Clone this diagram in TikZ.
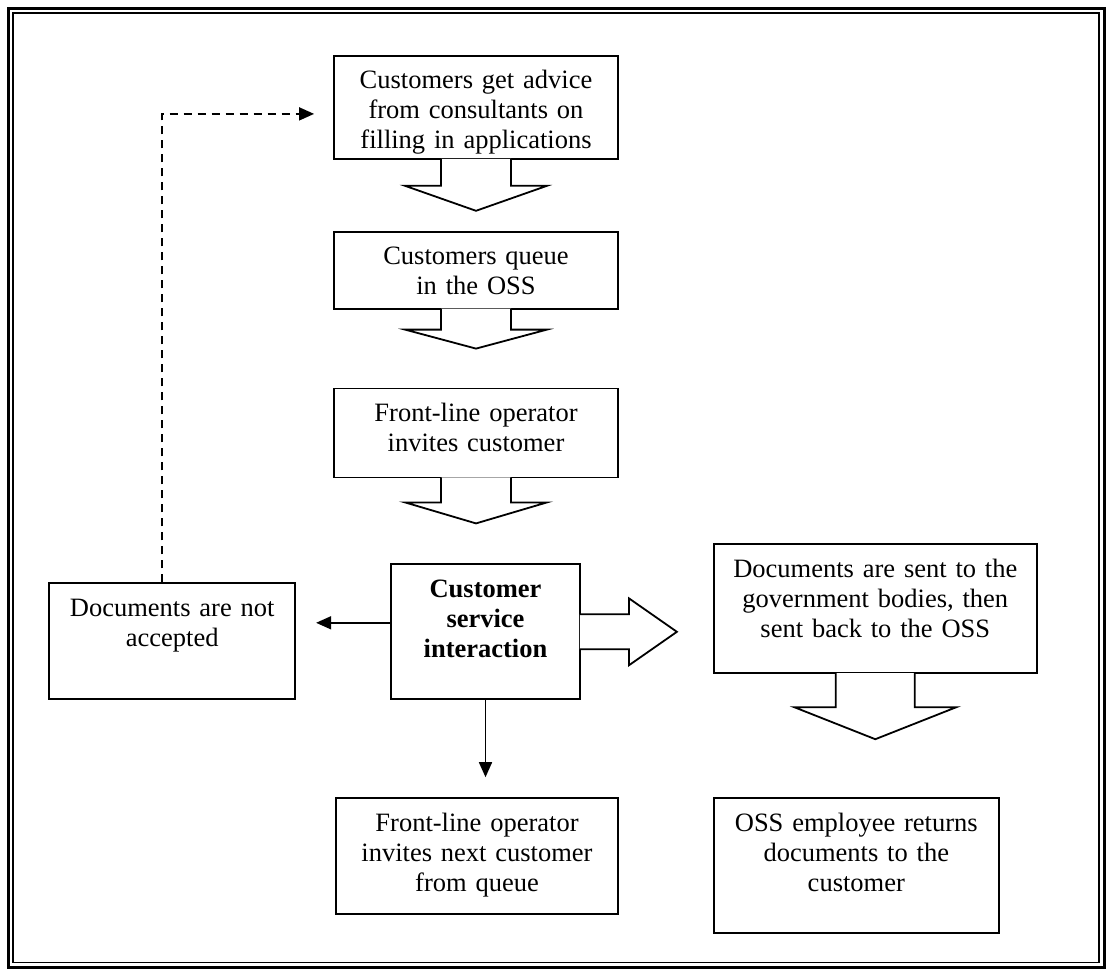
\documentclass[tikz,border=0pt]{standalone}
\usepackage{fontspec}
\setmainfont{Liberation Serif}
\usetikzlibrary{arrows.meta,positioning}

\begin{document}
\begin{tikzpicture}[
  box/.style={draw,line width=0.9pt,align=center,inner xsep=2pt,inner ysep=0pt,
              text height=16.5pt,font=\fontsize{13.25}{15}\selectfont},
  blockarrow/.style={draw,fill=white,line width=0.9pt},
  link/.style={-{Triangle[length=7.5pt,width=6.5pt]},line width=0.8pt}
]
\useasboundingbox (0,0) rectangle (553.5pt,-484.5pt);
% page frame
\draw[line width=1.5pt] (4.25pt,-4.25pt) rectangle (552pt,-483.5pt);
\draw[line width=0.75pt] (6.6pt,-6.6pt) rectangle (549.6pt,-481.25pt);

\node[box,text width=138pt,text depth=35pt,anchor=north] (advice) at (238pt,-27.5pt)
  {Customers get advice\\from consultants on\\filling in applications};
\node[box,text width=138pt,text depth=22pt,below=35.5pt of advice] (queue)
  {Customers queue\\in the OSS};
\node[box,text width=138pt,text depth=28pt,below=39pt of queue] (invite)
  {Front-line operator\\invites customer};
\node[box,text width=90.5pt,text depth=51pt,below=42.5pt of invite,xshift=4.75pt] (service)
  {\bfseries Customer\\service\\interaction};
\node[box,text width=119pt,text depth=41.5pt,left=47pt of service,yshift=-4.75pt] (reject)
  {Documents are not\\accepted};
\node[box,text width=157.5pt,text depth=48pt,right=66pt of service,yshift=11.5pt] (sent)
  {Documents are sent to the\\government bodies, then\\sent back to the OSS};
\node[box,text width=137pt,text depth=41.5pt,below=48.5pt of service,xshift=-4.25pt] (next)
  {Front-line operator\\invites next customer\\from queue};
\node[box,text width=138.5pt,text depth=51pt,below=61.5pt of sent.south west,anchor=north west] (return)
  {OSS employee returns\\documents to the\\customer};

% block arrows
\filldraw[blockarrow] ([shift={(-17.5pt,0.5pt)}]advice.south) -- ++(0,-13.5pt) -- ++(-18pt,0)
  -- ++(35.5pt,-12.5pt) -- ++(35.5pt,12.5pt) -- ++(-18pt,0) -- ++(0,13.5pt);
\filldraw[blockarrow] ([shift={(-17.5pt,0.5pt)}]queue.south) -- ++(0,-10.5pt) -- ++(-18pt,0)
  -- ++(35.5pt,-9.5pt) -- ++(35.5pt,9.5pt) -- ++(-18pt,0) -- ++(0,10.5pt);
\filldraw[blockarrow] ([shift={(-17.5pt,0.5pt)}]invite.south) -- ++(0,-12.5pt) -- ++(-18pt,0)
  -- ++(35.5pt,-10.5pt) -- ++(35.5pt,10.5pt) -- ++(-18pt,0) -- ++(0,12.5pt);
\filldraw[blockarrow] ([shift={(-0.5pt,8.75pt)}]service.east) -- ++(24.5pt,0) -- ++(0,8pt)
  -- ++(24pt,-16.75pt) -- ++(-24pt,-16.75pt) -- ++(0,8pt) -- ++(-24.5pt,0);
\filldraw[blockarrow] ([shift={(-19.75pt,0.5pt)}]sent.south) -- ++(0,-17pt) -- ++(-20.75pt,0)
  -- ++(40.5pt,-16pt) -- ++(40.5pt,16pt) -- ++(-20.75pt,0) -- ++(0,17pt);

% line arrows
\draw[link,shorten >=10pt] ([yshift=4.5pt]service.west) -- ([yshift=4.5pt]service.west -| reject.east);
\draw[link,shorten >=10pt] (service.south) -- (service.south |- next.north);
\draw[link,dash pattern=on 4pt off 3pt,shorten >=9.5pt] ([xshift=-5pt]reject.north) |- ([yshift=-3.25pt]advice.west);
\end{tikzpicture}
\end{document}
